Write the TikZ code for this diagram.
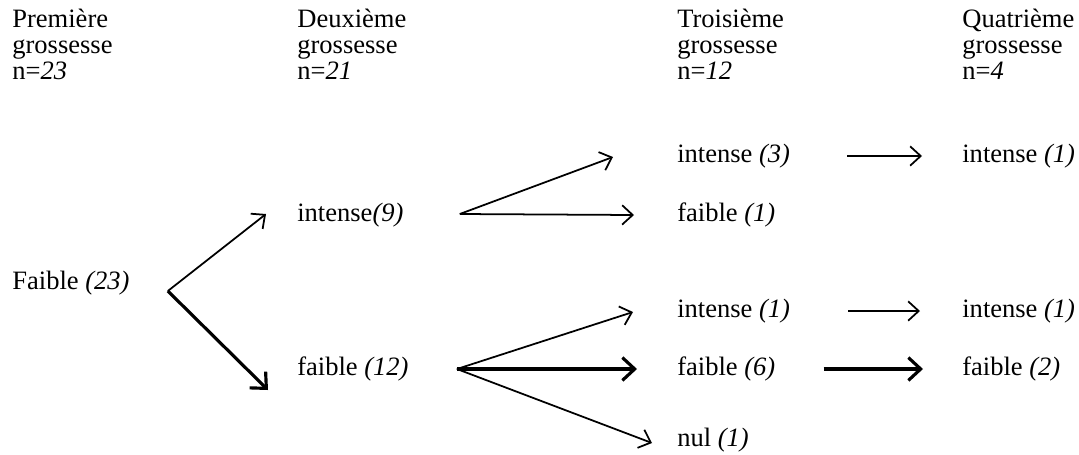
\documentclass[tikz,border=0pt]{standalone}
\usepackage{fontspec}
\setmainfont{Liberation Serif}
\usepackage{tikz}
\usetikzlibrary{arrows.meta, positioning, calc}

\begin{document}
\begin{tikzpicture}[x=0.02cm, y=-0.02cm,
  every node/.style={font=\fontsize{15.1}{14.8}\selectfont, inner sep=0pt},
  head/.style={anchor=north west, align=left},
  lbl/.style={anchor=west},
  arr/.style={-{Straight Barb[length=6pt,width=11pt]}, line width=1pt},
  arrthick/.style={-{Straight Barb[length=7pt,width=13pt]}, line width=1.8pt}]

  \useasboundingbox (0,0) rectangle (1079,454);

  % ---------- headers ----------
  \node[head] (h1) at (12,9)  {Première\\grossesse\\n=\textit{23}};
  \node[head] (h2) at (297,9) {Deuxième\\grossesse\\n=\textit{21}};
  \node[head] (h3) at (677,9) {Troisième\\grossesse\\n=\textit{12}};
  \node[head] (h4) at (962,9) {Quatrième\\grossesse\\n=\textit{4}};

  % ---------- first and second ----------
  \node[lbl] (f23) at (12,283)  {Faible \textit{(23)}};
  \node[lbl] (i9)  at (297,215) {intense\textit{(9)}};
  \node[lbl] (f12) at (297,369) {faible \textit{(12)}};

  % ---------- third ----------
  \node[lbl] (i3)  at (677,156) {intense \textit{(3)}};
  \node[lbl] (f1)  at (677,215) {faible \textit{(1)}};
  \node[lbl] (i1c) at (677,311) {intense \textit{(1)}};
  \node[lbl] (f6)  at (677,369) {faible \textit{(6)}};
  \node[lbl] (nul) at (677,440) {nul \textit{(1)}};

  % ---------- fourth ----------
  \node[lbl] (i1d) at (962,156) {intense \textit{(1)}};
  \node[lbl] (i1e) at (962,311) {intense \textit{(1)}};
  \node[lbl] (f2)  at (962,369) {faible \textit{(2)}};

  % branch points
  \coordinate (b23) at ($(f23.east)+(38,8)$);
  \coordinate (b9)  at ($(i9.east)+(56,-1)$);
  \coordinate (b12) at ($(f12.east)+(48,0)$);

  \draw[arr]      (b23) -- ($(i9.west)+(-31,-1)$);
  \draw[arrthick] (b23) -- ($(f12.west)+(-29,21)$);

  \draw[arr] (b9) -- ($(i3.west)+(-64,1)$);
  \draw[arr] (b9) -- ($(f1.west)+(-43,0)$);

  \draw[arr]      (b12) -- ($(i1c.west)+(-44,1)$);
  \draw[arrthick] (b12) -- ($(f6.west)+(-40,0)$);
  \draw[arr]      (b12) -- ($(nul.west)+(-25,3)$);

  \draw[arr]      ($(i3.east)+(57,0)$)  -- ($(i1d.west)+(-40,0)$);
  \draw[arr]      ($(i1c.east)+(58,0)$) -- ($(i1e.west)+(-42,0)$);
  \draw[arrthick] ($(f6.east)+(48,0)$)  -- ($(f2.west)+(-39,0)$);
\end{tikzpicture}
\end{document}
